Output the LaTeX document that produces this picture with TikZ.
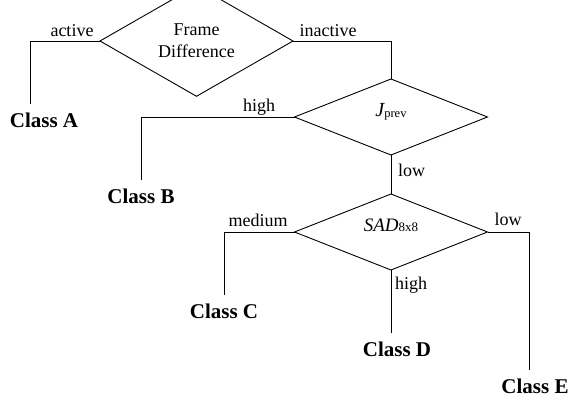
\documentclass[tikz,border=0pt]{standalone}
\usepackage{fontspec}
\setmainfont{Liberation Serif}
\usetikzlibrary{shapes.geometric}

\begin{document}
\begin{tikzpicture}[x=1pt, y=-1pt, line width=0.9pt,
    decision/.style={diamond, draw, minimum width=193pt, minimum height=76pt,
      inner sep=0pt, outer sep=0pt, align=center, font=\fontsize{18}{22}\selectfont},
    classbox/.style={anchor=base, inner sep=9pt, font=\fontsize{21}{24}\selectfont\bfseries},
    branch/.style={anchor=base, inner sep=0pt, font=\fontsize{18}{22}\selectfont}]
        \useasboundingbox (0,0) rectangle (571,403);

        \node[decision] (frameDiff) at (196.5, 41) {Frame\\Difference};
        \node[decision, text height=10pt, text depth=10pt] (jPrev) at (391, 117)
            {\fontsize{20}{22}\selectfont\itshape J\upshape\raisebox{-1pt}{\fontsize{12.5}{13}\selectfont prev}};
        \node[decision, text height=10pt, text depth=10pt] (sad) at (391, 232)
            {\fontsize{19}{22}\selectfont\itshape SAD\upshape{\fontsize{13}{14}\selectfont 8x8}};

        \node[classbox] (classA) at (44, 128) {Class A};
        \node[classbox] (classB) at (141, 204) {Class B};
        \node[classbox] (classC) at (224, 319) {Class C};
        \node[classbox] (classD) at (397, 357) {Class D};
        \node[classbox] (classE) at (535, 394) {Class E};

        \node[branch] (active) at (72, 36.5) {active};
        \node[branch] (inactive) at (328, 37) {inactive};
        \node[branch] (jHigh) at (259, 112) {high};
        \node[branch] (jLow) at (411.5, 176.5) {low};
        \node[branch] (sadMedium) at (258, 226.7) {medium};
        \node[branch] (sadLow) at (508, 226) {low};
        \node[branch] (sadHigh) at (411, 290) {high};

        \draw (frameDiff.west) -| ([xshift=-14pt]classA.north);
        \draw (frameDiff.east) -| (jPrev.north);
        \draw (jPrev.west) -| (classB.north);
        \draw (jPrev.south) -- (sad.north);
        \draw (sad.west) -| (classC.north);
        \draw (sad.south) -- (sad.south |- classD.north);
        \draw (sad.east) -| ([xshift=-6pt]classE.north);
      \end{tikzpicture}
\end{document}
